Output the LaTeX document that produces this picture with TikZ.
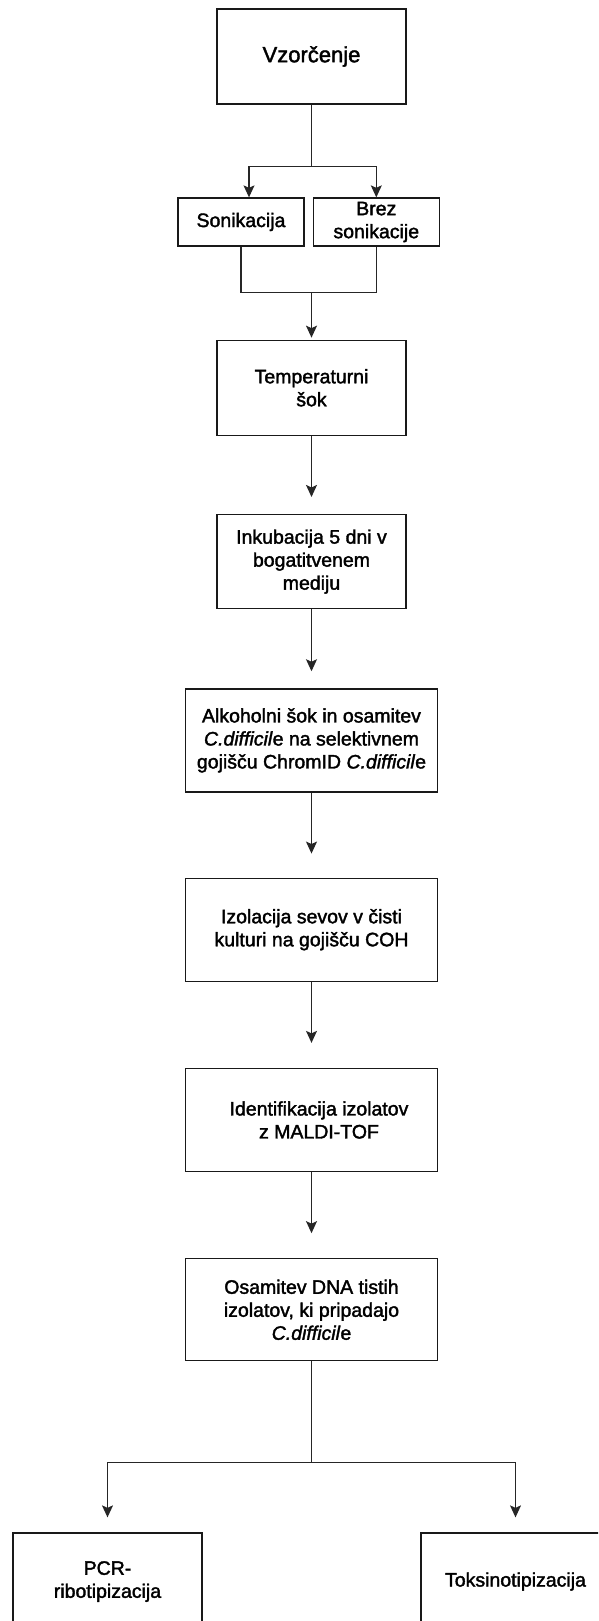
\documentclass[tikz,border=0pt]{standalone}
\usepackage{fontspec}
\setmainfont{Liberation Sans}[RawFeature={embolden=1.8}]
\usepackage{xcolor}
\usepackage{tikz}
\usetikzlibrary{arrows.meta,positioning,calc}
\tikzset{
	stage/.style={draw=black!90, line width=1.3pt, minimum width=189pt, minimum height=95pt, inner sep=0pt, align=center, font=\fontsize{19.5}{23}\selectfont},
	widestage/.style={stage, minimum width=252pt, minimum height=103pt},
	branch/.style={stage, minimum width=126pt, minimum height=48pt},
	link/.style={draw=black!85, line width=1.2pt},
	flow/.style={link, -{Stealth[length=12pt,width=11pt,inset=2.5pt]}}
}

\begin{document}
\begin{tikzpicture}[x=1pt,y=1pt]
			\useasboundingbox (0,0) rectangle (598,-1621);
			\fill[white] (0,0) rectangle (598,-1621);
			\clip (0,0) rectangle (598,-1621);

			\node[stage, font=\fontsize{22}{26}\selectfont] (vzor) at (311.5,-56.5) {Vzorčenje};
			\node[branch] (soni) at (241,-222) {Sonikacija};
			\node[branch, right=8pt of soni] (brez) {Brez\\sonikacije};
			\node[stage, below=235pt of vzor] (temp) {Temperaturni\\šok};
			\node[stage, below=78pt of temp, minimum height=94pt] (inku) {Inkubacija 5 dni v\\bogatitvenem\\mediju};
			\node[widestage, below=79pt of inku] (alko) {Alkoholni šok in osamitev\\\textit{C.difficil}e na selektivnem\\gojišču ChromID \textit{C.difficil}e};
			\node[widestage, below=85pt of alko] (izol) {Izolacija sevov v čisti\\kulturi na gojišču COH};
			\node[widestage, below=86pt of izol] (iden) {\hspace*{15pt}Identifikacija izolatov\\\hspace*{15pt}z MALDI-TOF};
			\node[widestage, below=86pt of iden, minimum height=102pt] (osam) {Osamitev DNA tistih\\izolatov, ki pripadajo\\\textit{C.difficil}e};
			\node[stage, minimum height=97pt] (pcr) at (107.5,-1581.5) {PCR-\\ribotipizacija};
			\node[stage, minimum height=97pt] (toks) at (515.5,-1581.5) {Toksinotipizacija};

			% razcepi in zdruzitve
			\coordinate (split1) at ($(vzor.south)+(0,-62)$);
			\coordinate (join) at ($(soni.south -| vzor.south)+(0,-46)$);
			\coordinate (split2) at ($(osam.south)+(0,-101)$);

			\draw[link] (vzor.south) -- (split1);
			\draw[flow] (split1) -| ([xshift=8pt]soni.north);
			\draw[flow] (split1) -| (brez.north);
			\draw[link] (soni.south) |- (join);
			\draw[link] (brez.south) |- (join);
			\draw[flow, shorten >=2pt] (join) -- (temp.north);

			\draw[flow, shorten >=17pt] (temp.south) -- (inku.north);
			\draw[flow, shorten >=17pt] (inku.south) -- (alko.north);
			\draw[flow, shorten >=24pt] (alko.south) -- (izol.north);
			\draw[flow, shorten >=25pt] (izol.south) -- (iden.north);
			\draw[flow, shorten >=25pt] (iden.south) -- (osam.north);

			\draw[link] (osam.south) -- (split2);
			\draw[flow, shorten >=15pt] (split2) -| (pcr.north);
			\draw[flow, shorten >=15pt] (split2) -| (toks.north);
		\end{tikzpicture}
\end{document}
